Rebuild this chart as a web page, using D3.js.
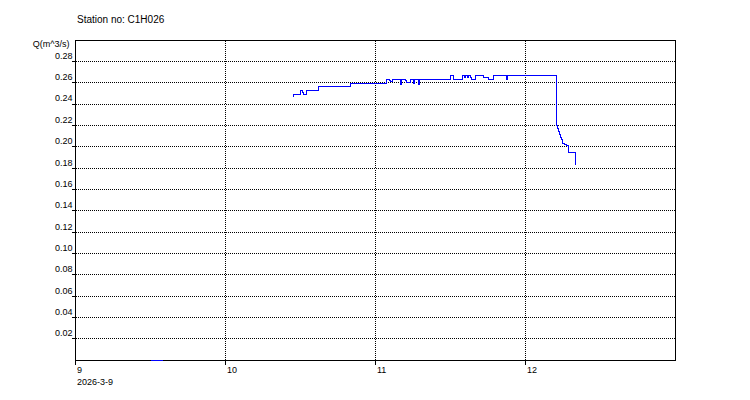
<!DOCTYPE html>
<html>
<head>
<meta charset="utf-8">
<script src="https://cdn.jsdelivr.net/npm/d3@7"></script>
<style>
  html, body { margin: 0; padding: 0; background: #fff; }
  svg { display: block; }
  text { font-family: Arial, "Liberation Sans", sans-serif; fill: #000; }
</style>
</head>
<body>
<div id="chart"></div>
<script>
// ---- data ----
const title = "Station no: C1H026";
const yLabel = "Q(m^3/s)";
const dateLabel = "2026-3-9";
// hours since 2026-3-9 00:00
const xTickHours = [0, 24, 48, 72];
const xTickLabels = ["9", "10", "11", "12"];
const yTicks = [0.02, 0.04, 0.06, 0.08, 0.10, 0.12, 0.14, 0.16, 0.18, 0.20, 0.22, 0.24, 0.26, 0.28];
const yTickLabels = ["0.02", "0.04", "0.06", "0.08", "0.10", "0.12", "0.14", "0.16", "0.18", "0.20", "0.22", "0.24", "0.26", "0.28"];

const zeroHours = [12.0, 14.03];
const zeroFlow = [0, 0];

const hours = [34.9, 35.0, 36.05, 36.45, 36.6, 37.0, 38.9, 44.0, 49.9, 50.3, 50.55, 50.72,
  52.05, 52.2, 52.9, 53.1, 53.7, 54.1, 54.25, 55.0, 55.15, 60.0, 60.5, 60.6, 62.0, 62.25,
  62.5, 62.8, 63.0, 63.25, 63.5, 64.0, 65.3, 66.1, 66.9, 69.0, 69.15, 77.0, 77.23, 77.4,
  77.55, 77.7, 77.87, 78.0, 78.3, 78.7, 78.9, 80.05];
const flow = [0.2466, 0.2487, 0.2525, 0.2512, 0.2490, 0.2531, 0.2560, 0.2595, 0.2634, 0.2625, 0.2612, 0.2634,
  0.2587, 0.2634, 0.2622, 0.2605, 0.2634, 0.2595, 0.2634, 0.2587, 0.2634, 0.2668, 0.2650, 0.2634, 0.2668, 0.2652,
  0.2668, 0.2652, 0.2668, 0.2650, 0.2634, 0.2668, 0.2650, 0.2634, 0.2668, 0.2634, 0.2665, 0.2200, 0.2169, 0.2144,
  0.2113, 0.2088, 0.2066, 0.2034, 0.2019, 0.2012, 0.1950, 0.1831];

// ---- chart ----
const W = 750, H = 400;
const svg = d3.select("#chart").append("svg").attr("width", W).attr("height", H);

const x = d3.scaleLinear().domain([0, 96]).range([75, 675]);
const y = d3.scaleLinear().domain([0, 0.30]).range([360, 40]);
const px = v => Math.floor(v + 1e-6) + 0.5;

// gridlines
const grid = svg.append("g").attr("stroke", "#000").attr("stroke-width", 1)
  .attr("stroke-dasharray", "1,1").attr("shape-rendering", "crispEdges");
grid.selectAll("line.h").data(yTicks).enter().append("line")
  .attr("x1", px(x(0))).attr("x2", px(x(96)))
  .attr("y1", d => px(y(d))).attr("y2", d => px(y(d)));
grid.selectAll("line.v").data(xTickHours.slice(1)).enter().append("line")
  .attr("y1", px(y(0.30))).attr("y2", px(y(0)))
  .attr("x1", d => px(x(d))).attr("x2", d => px(x(d)));

// frame
svg.append("rect").attr("x", px(x(0))).attr("y", px(y(0.30)))
  .attr("width", x(96) - x(0)).attr("height", y(0) - y(0.30))
  .attr("fill", "none").attr("stroke", "#000").attr("stroke-width", 1)
  .attr("shape-rendering", "crispEdges");

// y ticks
const yt = svg.append("g").attr("shape-rendering", "crispEdges");
yt.selectAll("line").data(yTicks).enter().append("line")
  .attr("x1", px(x(0)) - 4).attr("x2", px(x(0)))
  .attr("y1", d => px(y(d))).attr("y2", d => px(y(d)))
  .attr("stroke", "#000");
svg.append("g").selectAll("text").data(yTicks).enter().append("text")
  .attr("x", 72.5).attr("y", d => Math.floor(y(d)) - 2.5)
  .attr("text-anchor", "end").attr("font-size", "9px")
  .text((d, i) => yTickLabels[i]);

// x ticks
const xt = svg.append("g").attr("shape-rendering", "crispEdges");
xt.selectAll("line").data(xTickHours).enter().append("line")
  .attr("x1", d => px(x(d))).attr("x2", d => px(x(d)))
  .attr("y1", px(y(0))).attr("y2", px(y(0)) + 4)
  .attr("stroke", "#000");
svg.append("g").selectAll("text").data(xTickHours).enter().append("text")
  .attr("x", d => x(d) + 2).attr("y", 372.5)
  .attr("font-size", "9px")
  .text((d, i) => xTickLabels[i]);
svg.append("text").attr("x", x(0) + 2).attr("y", 384.5)
  .attr("font-size", "9px").text(dateLabel);

// titles
svg.append("text").attr("x", 77).attr("y", 23).attr("font-size", "10px").text(title);
svg.append("text").attr("x", 69.5).attr("y", 47).attr("text-anchor", "end")
  .attr("font-size", "9px").text(yLabel);

// data lines
const line = d3.line().x(d => px(x(d[0]))).y(d => px(y(d[1]))).curve(d3.curveStepAfter);
const mainData = hours.map((h, i) => [h, flow[i]]);
const zeroData = zeroHours.map((h, i) => [h, zeroFlow[i]]);
const dl = svg.append("g").attr("fill", "none").attr("stroke", "#0000ff")
  .attr("stroke-width", 1).attr("shape-rendering", "crispEdges");
dl.append("path").datum(mainData).attr("d", line);
dl.append("path").datum(zeroData).attr("d", line);
</script>
</body>
</html>
